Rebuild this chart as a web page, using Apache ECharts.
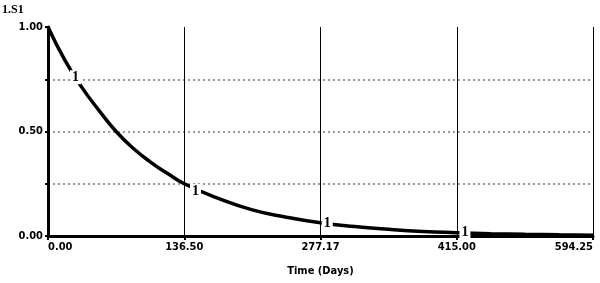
<!DOCTYPE html>
<html>
<head>
<meta charset="utf-8">
<script src="https://cdn.jsdelivr.net/npm/echarts@6/dist/echarts.min.js"></script>
<style>
  html, body { margin: 0; padding: 0; background: #fff; }
  #chart { width: 600px; height: 283px; }
</style>
</head>
<body>
<div id="chart"></div>
<script>
// time in days, stock S1
const days = [0, 17.3, 34.6, 52, 69.3, 86.6, 103.9, 121.2, 138.6, 173.2, 207.8, 242.5, 277.1, 311.8, 346.4, 381.1, 415.7, 450.3, 485, 519.6, 554.25];
const s1 = [1.00, 0.84, 0.71, 0.60, 0.50, 0.42, 0.355, 0.30, 0.25, 0.18, 0.125, 0.09, 0.063, 0.045, 0.032, 0.022, 0.016, 0.011, 0.008, 0.006, 0.004];
const xTickLabels = ['0.00', '136.50', '277.17', '415.00', '594.25'];
const yTickLabels = { 0: '0.00', 0.5: '0.50', 1: '1.00' };
// where the "1" series markers sit along the curve
const markerDays = [28, 150, 284, 424];
const markerVals = [0.76, 0.215, 0.058, 0.016];

const xMax = 554.25;
const xStep = xMax / 4;

const chart = echarts.init(document.getElementById('chart'));
const labelFont = { color: '#000', fontSize: 11, fontWeight: 'bold', fontFamily: 'DejaVu Sans Condensed' };

chart.setOption({
  animation: false,
  grid: { left: 48, right: 7, top: 27, bottom: 47, outerBoundsMode: 'none' },
  graphic: [{
    type: 'text', left: 2, top: 4,
    style: { text: '1.S1', fill: '#000', font: 'bold 12px "Liberation Serif"' }
  }],
  xAxis: {
    type: 'value',
    min: 0, max: xMax, interval: xStep,
    name: 'Time (Days)', nameLocation: 'middle', nameGap: 30,
    nameTextStyle: { color: '#000', fontSize: 11, fontWeight: 'bold', fontFamily: 'DejaVu Sans Condensed' },
    axisLine: { lineStyle: { color: '#000', width: 3 } },
    axisTick: { show: true, length: 4, lineStyle: { color: '#000', width: 2 } },
    axisLabel: Object.assign({
      margin: 6,
      alignMinLabel: 'left',
      alignMaxLabel: 'right',
      formatter: v => xTickLabels[Math.round(v / xStep)] || ''
    }, labelFont),
    splitLine: { show: true, lineStyle: { color: '#000', width: 1 } }
  },
  yAxis: {
    type: 'value',
    min: 0, max: 1, interval: 0.25,
    axisLine: { show: true, lineStyle: { color: '#000', width: 3 } },
    axisTick: { show: true, length: 3, lineStyle: { color: '#000', width: 2 } },
    axisLabel: Object.assign({
      margin: 5,
      formatter: v => yTickLabels[v] || ''
    }, labelFont),
    splitLine: {
      show: true,
      lineStyle: { color: ['transparent', '#9a9a9a', '#9a9a9a', '#9a9a9a', 'transparent'], width: 2, type: [2, 3] }
    }
  },
  series: [{
    type: 'line',
    data: days.map((d, i) => [d, s1[i]]),
    smooth: true,
    showSymbol: false,
    lineStyle: { color: '#000', width: 3.5 }
  }, {
    type: 'scatter',
    data: markerDays.map((d, i) => [d, markerVals[i]]),
    symbol: 'rect',
    symbolSize: 1,
    itemStyle: { color: '#fff' },
    z: 5,
    label: {
      show: true, formatter: '1', position: 'inside',
      color: '#000', opacity: 1, fontSize: 14, fontWeight: 'bold', fontFamily: 'Liberation Serif',
      textBorderColor: 'transparent', textBorderWidth: 0,
      backgroundColor: '#fff', padding: [0, 2]
    }
  }]
});
</script>
</body>
</html>
